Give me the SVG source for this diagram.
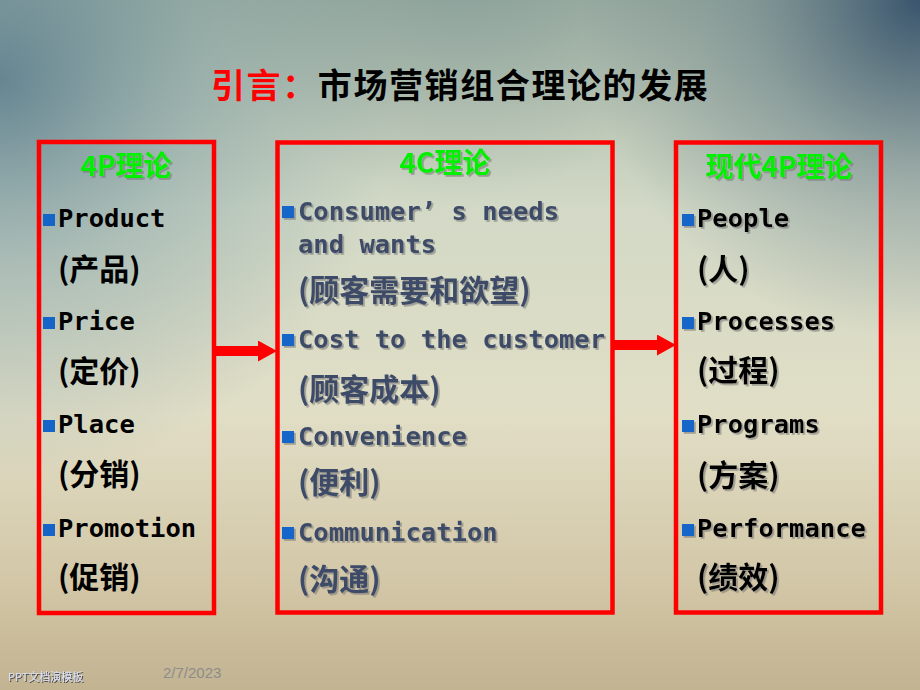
<svg xmlns="http://www.w3.org/2000/svg" width="920" height="690" viewBox="0 0 920 690">
<defs>
<linearGradient id="bgv" x1="0" y1="0" x2="0" y2="1">
<stop offset="0" stop-color="#A3B3A4"/>
<stop offset="0.3" stop-color="#D2D9C6"/>
<stop offset="0.6" stop-color="#E1DEC6"/>
<stop offset="0.85" stop-color="#D2C6A6"/>
<stop offset="1" stop-color="#C2B391"/>
</linearGradient>
<radialGradient id="tl" gradientUnits="userSpaceOnUse" cx="0" cy="80" r="400">
<stop offset="0" stop-color="#52768A" stop-opacity="0.8"/>
<stop offset="0.5" stop-color="#7094A0" stop-opacity="0.38"/>
<stop offset="1" stop-color="#7094A0" stop-opacity="0"/>
</radialGradient>
<radialGradient id="tr" gradientUnits="userSpaceOnUse" cx="920" cy="0" r="340">
<stop offset="0" stop-color="#34506A" stop-opacity="0.95"/>
<stop offset="0.5" stop-color="#5A7482" stop-opacity="0.45"/>
<stop offset="1" stop-color="#5A7482" stop-opacity="0"/>
</radialGradient>
<radialGradient id="tc" gradientUnits="userSpaceOnUse" cx="460" cy="-60" r="260">
<stop offset="0" stop-color="#6F8C90" stop-opacity="0.5"/>
<stop offset="1" stop-color="#6F8C90" stop-opacity="0"/>
</radialGradient>
<filter id="sh" x="-10%" y="-20%" width="120%" height="150%">
<feDropShadow dx="1.8" dy="1.8" stdDeviation="0.7" flood-color="#6E6E6E" flood-opacity="0.55"/>
</filter>
<filter id="shd" x="-10%" y="-30%" width="120%" height="160%">
<feDropShadow dx="1" dy="1" stdDeviation="0.6" flood-color="#303040" flood-opacity="0.9"/>
</filter>
<marker id="ah" viewBox="0 0 19 21" refX="0" refY="10.5" markerWidth="19" markerHeight="21" markerUnits="userSpaceOnUse" orient="auto">
<path d="M0,0 L19,10.5 L0,21 Z" fill="#FF0000"/>
</marker>
<style>
.box{fill:none;stroke:#FF0000;stroke-width:4.5}
.hd{font-family:"Noto Sans CJK SC","DejaVu Sans",sans-serif;font-weight:bold;font-size:28px;fill:#00F000;text-anchor:middle}
.en{font-family:"DejaVu Sans Mono","Liberation Mono","Noto Sans CJK SC",monospace;font-weight:bold;font-size:25.5px}
.cn{font-family:"Noto Sans CJK SC",sans-serif;font-weight:bold;font-size:30px}
.k{fill:#000000}
.m{fill:#3E4C68}
.b{fill:#1565C8}
.arr{stroke:#FF0000;stroke-width:10;fill:none;marker-end:url(#ah)}
</style>
</defs>

<g id="background">
<rect x="0" y="0" width="920" height="690" fill="url(#bgv)"/>
<rect x="0" y="0" width="920" height="690" fill="url(#tc)"/>
<rect x="0" y="0" width="920" height="690" fill="url(#tl)"/>
<rect x="0" y="0" width="920" height="690" fill="url(#tr)"/>
</g>

<g id="title">
<text x="211" y="98" font-family="Noto Sans CJK SC, sans-serif" font-weight="bold" font-size="34" letter-spacing="1.6"><tspan fill="#FF0000">引言：</tspan><tspan fill="#000000">市场营销组合理论的发展</tspan></text>
</g>

<g id="node-4p">
<rect class="box" x="39" y="142" width="175" height="471"/>
<text class="hd" x="126" y="176" filter="url(#sh)">4P理论</text>
<rect class="b" x="43" y="214" width="12" height="12"/>
<text class="en k" x="58" y="227">Product</text>
<text class="cn k" x="58" y="280">(产品)</text>
<rect class="b" x="43" y="317" width="12" height="12"/>
<text class="en k" x="58" y="330">Price</text>
<text class="cn k" x="58" y="382">(定价)</text>
<rect class="b" x="43" y="420" width="12" height="12"/>
<text class="en k" x="58" y="433">Place</text>
<text class="cn k" x="58" y="485">(分销)</text>
<rect class="b" x="43" y="524" width="12" height="12"/>
<text class="en k" x="58" y="537">Promotion</text>
<text class="cn k" x="58" y="588">(促销)</text>
</g>

<g id="node-4c">
<rect class="box" x="277.5" y="142.5" width="335" height="470"/>
<text class="hd" x="445" y="173" filter="url(#sh)">4C理论</text>
<g filter="url(#sh)">
<rect class="b" x="282" y="206" width="12" height="12"/>
<text class="en m" x="298" y="220">Consumer’ s needs</text>
<text class="en m" x="298" y="253">and wants</text>
<text class="cn m" x="298" y="301">(顾客需要和欲望)</text>
<rect class="b" x="282" y="334" width="12" height="12"/>
<text class="en m" x="298" y="348">Cost to the customer</text>
<text class="cn m" x="298" y="400">(顾客成本)</text>
<rect class="b" x="282" y="431" width="12" height="12"/>
<text class="en m" x="298" y="445">Convenience</text>
<text class="cn m" x="298" y="493">(便利)</text>
<rect class="b" x="282" y="527" width="12" height="12"/>
<text class="en m" x="298" y="541">Communication</text>
<text class="cn m" x="298" y="590">(沟通)</text>
</g>
</g>

<g id="node-modern4p">
<rect class="box" x="676" y="142.5" width="205" height="470"/>
<text class="hd" x="779" y="177" filter="url(#sh)">现代4P理论</text>
<g filter="url(#sh)">
<rect class="b" x="682" y="214" width="12" height="12"/>
<text class="en k" x="697" y="227">People</text>
<text class="cn k" x="697" y="280">(人)</text>
<rect class="b" x="682" y="317" width="12" height="12"/>
<text class="en k" x="697" y="330">Processes</text>
<text class="cn k" x="697" y="381">(过程)</text>
<rect class="b" x="682" y="420" width="12" height="12"/>
<text class="en k" x="697" y="433">Programs</text>
<text class="cn k" x="697" y="486">(方案)</text>
<rect class="b" x="682" y="524" width="12" height="12"/>
<text class="en k" x="697" y="537">Performance</text>
<text class="cn k" x="697" y="588">(绩效)</text>
</g>
</g>

<g id="connectors">
<line class="arr" x1="214" y1="351" x2="258" y2="351"/>
<line class="arr" x1="612" y1="345" x2="657" y2="345"/>
</g>

<g id="footer">
<text x="8" y="681" font-family="Noto Sans CJK SC, sans-serif" font-size="11" fill="#DCE2F4" filter="url(#shd)">PPT文档演模板</text>
<text x="163" y="678" font-family="Liberation Sans, Arial, sans-serif" font-size="15" fill="#8E8C8A">2/7/2023</text>
</g>
</svg>
